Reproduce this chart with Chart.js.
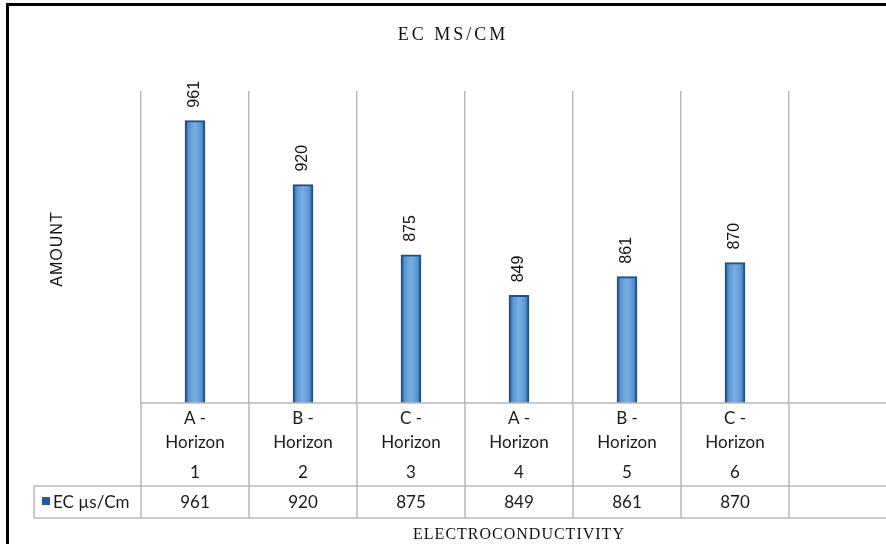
<!DOCTYPE html>
<html>
<head>
<meta charset="utf-8">
<script src="https://cdn.jsdelivr.net/npm/chart.js@4.4.1/dist/chart.umd.min.js"></script>
<style>
html,body{margin:0;padding:0;background:#fff;overflow:hidden;}
#wrap{position:relative;width:900px;height:544px;}
canvas{display:block;}
</style>
</head>
<body>
<div id="wrap"><canvas id="c" width="900" height="544"></canvas></div>
<script>
// ---- data ----
const categoryNames = ["A -", "B -", "C -", "A -", "B -", "C -"];
const categorySuffix = ["Horizon", "Horizon", "Horizon", "Horizon", "Horizon", "Horizon"];
const categoryNumbers = ["1", "2", "3", "4", "5", "6"];
const ecValues = [961, 920, 875, 849, 861, 870];
const seriesName = "EC \u00b5s/Cm";
const chartTitle = "EC MS/CM";
const xTitle = "ELECTROCONDUCTIVITY";
const yTitle = "AMOUNT";
const yMin = 780, yMax = 980;

// chart labels: six categories plus one empty column as in the original
const labels = categoryNames.map((n, i) => [n, categorySuffix[i], categoryNumbers[i]]).concat([""]);
const dataVals = ecValues.concat([null]);

const GRID = '#b8b8b8';
const SANS = '"Liberation Sans", Arial, sans-serif';
const CAL = 'Lato, "Open Sans", sans-serif';
const SERIF = '"Liberation Serif", "Times New Roman", serif';

function barGradient(ctx) {
  const chart = ctx.chart;
  const xs = chart.scales && chart.scales.x;
  if (!xs || ctx.dataIndex === undefined) return '#5b9bd5';
  const cx = xs.getPixelForValue(ctx.dataIndex);
  if (!isFinite(cx)) return '#5b9bd5';
  const g = chart.ctx.createLinearGradient(cx - 10, 0, cx + 10, 0);
  g.addColorStop(0, '#2f68a8');
  g.addColorStop(0.22, '#5d98d4');
  g.addColorStop(0.5, '#78afe2');
  g.addColorStop(0.78, '#5d98d4');
  g.addColorStop(1, '#2f68a8');
  return g;
}

const decor = {
  id: 'decor',
  afterDatasetsDraw(chart) {
    const ctx = chart.ctx;
    const meta = chart.getDatasetMeta(0);
    ctx.save();
    ctx.fillStyle = '#111';
    ctx.font = '16px ' + SANS;
    ctx.textAlign = 'left';
    ctx.textBaseline = 'middle';
    meta.data.forEach((bar, i) => {
      const v = ecValues[i];
      if (v === undefined) return;
      ctx.save();
      ctx.translate(bar.x, bar.y - 13);
      ctx.rotate(-Math.PI / 2);
      ctx.fillText(String(v), 0, 0);
      ctx.restore();
    });
    ctx.restore();
  },
  afterDraw(chart) {
    const ctx = chart.ctx;
    const a = chart.chartArea;
    const xs = chart.scales.x;
    const n = labels.length;
    const step = (a.right - a.left) / n;
    const rowTop = a.bottom;
    const rowMid = 486;
    const rowBot = 518;
    ctx.save();
    // outer frame (left and top)
    ctx.fillStyle = '#000';
    ctx.fillRect(6, 3, 3, 541);
    ctx.fillRect(6, 3, 894, 3);

    // table lines
    ctx.strokeStyle = GRID;
    ctx.lineWidth = 1.5;
    ctx.beginPath();
    ctx.moveTo(a.left, rowTop); ctx.lineTo(a.right, rowTop);
    ctx.moveTo(34, rowMid); ctx.lineTo(a.right, rowMid);
    ctx.moveTo(34, rowBot); ctx.lineTo(a.right, rowBot);
    ctx.moveTo(34, rowMid); ctx.lineTo(34, rowBot);
    for (let i = 0; i <= n; i++) {
      const x = a.left + i * step;
      ctx.moveTo(x, rowTop); ctx.lineTo(x, rowBot);
    }
    ctx.stroke();

    // category labels
    ctx.fillStyle = '#1a1a1a';
    ctx.font = '17px ' + CAL;
    ctx.textAlign = 'center';
    ctx.textBaseline = 'alphabetic';
    categoryNames.forEach((nm, i) => {
      const x = xs.getPixelForValue(i);
      ctx.fillText(nm, x, 424);
      ctx.fillText(categorySuffix[i], x, 448);
      ctx.fillText(categoryNumbers[i], x, 478);
      ctx.fillText(String(ecValues[i]), x, 508);
    });

    // legend cell
    ctx.fillStyle = '#24589b';
    ctx.fillRect(42, 497, 8, 8);
    ctx.fillStyle = '#1a1a1a';
    ctx.textAlign = 'left';
    ctx.fillText(seriesName, 53, 508);

    // titles
    ctx.fillStyle = '#111';
    ctx.textAlign = 'center';
    ctx.font = '18px ' + SERIF;
    ctx.letterSpacing = '3px';
    ctx.fillText(chartTitle, 453, 40);
    ctx.font = '16px ' + SERIF;
    ctx.letterSpacing = '1px';
    ctx.fillText(xTitle, (a.left + a.right) / 2, 539);

    ctx.font = '16px ' + SANS;
    ctx.letterSpacing = '1px';
    ctx.save();
    ctx.translate(58, 249);
    ctx.rotate(-Math.PI / 2);
    ctx.textBaseline = 'middle';
    ctx.fillText(yTitle, 0, 0);
    ctx.restore();
    ctx.letterSpacing = '0px';
    ctx.restore();
  }
};

new Chart(document.getElementById('c'), {
  type: 'bar',
  data: {
    labels: labels,
    datasets: [{
      label: seriesName,
      data: dataVals,
      backgroundColor: barGradient,
      borderColor: '#1d4f8c',
      borderWidth: 2,
      borderSkipped: false,
      barThickness: 20
    }]
  },
  options: {
    responsive: false,
    animation: false,
    devicePixelRatio: 1,
    layout: { padding: { left: 141, right: 3, top: 91, bottom: 141 } },
    plugins: {
      legend: { display: false },
      title: { display: false },
      tooltip: { enabled: false }
    },
    scales: {
      x: {
        display: true,
        offset: true,
        ticks: { display: false },
        border: { display: false },
        grid: { offset: true, color: GRID, lineWidth: 1.5, drawTicks: false, tickLength: 0 },
        afterFit(s) { s.height = 0; }
      },
      y: {
        display: false,
        min: yMin,
        max: yMax
      }
    }
  },
  plugins: [decor]
});
</script>
</body>
</html>
